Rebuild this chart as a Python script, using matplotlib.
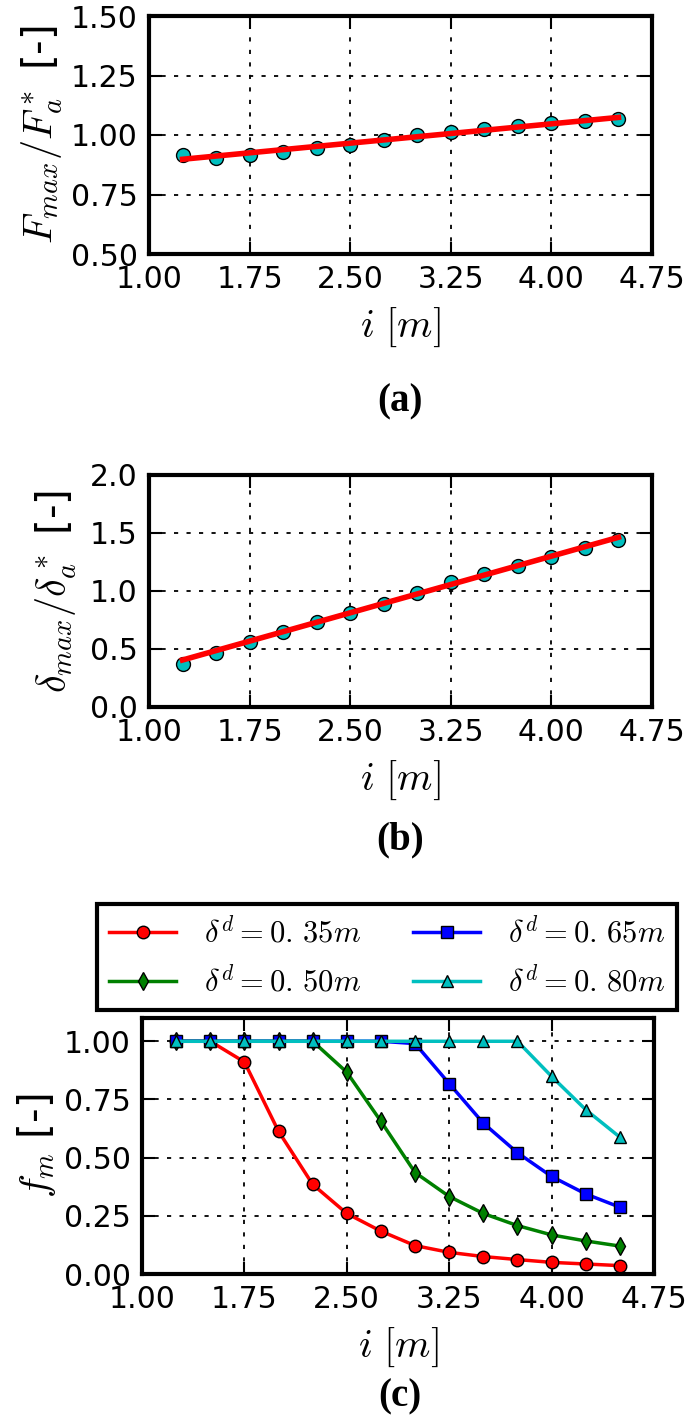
import numpy as np
import matplotlib
matplotlib.use("Agg")
import matplotlib.pyplot as plt

# spacing of piles i [m]
spacing = [1.25, 1.50, 1.75, 2.00, 2.25, 2.50, 2.75, 3.00, 3.25, 3.50, 3.75, 4.00, 4.25, 4.50]

# (a) force ratio and linear fit end points
force_ratio = [0.916, 0.905, 0.916, 0.929, 0.945, 0.959, 0.977, 0.998, 1.014, 1.027, 1.037, 1.050, 1.060, 1.068]
force_fit_x = [1.25, 4.50]
force_fit_y = [0.898, 1.074]

# (b) displacement ratio and linear fit end points
disp_ratio = [0.373, 0.465, 0.560, 0.646, 0.729, 0.809, 0.889, 0.987, 1.076, 1.145, 1.217, 1.297, 1.369, 1.440]
disp_fit_x = [1.25, 4.50]
disp_fit_y = [0.405, 1.463]

# (c) f_m for four design displacements
fm_035 = [1.0, 1.0, 0.911, 0.613, 0.385, 0.260, 0.184, 0.122, 0.093, 0.075, 0.062, 0.050, 0.043, 0.036]
fm_050 = [1.0, 1.0, 1.0, 1.0, 1.0, 0.867, 0.656, 0.436, 0.333, 0.260, 0.208, 0.168, 0.142, 0.120]
fm_065 = [1.0, 1.0, 1.0, 1.0, 1.0, 1.0, 1.0, 0.990, 0.818, 0.648, 0.521, 0.419, 0.344, 0.287]
fm_080 = [1.0, 1.0, 1.0, 1.0, 1.0, 1.0, 1.0, 1.0, 1.0, 1.0, 1.0, 0.849, 0.706, 0.588]
fm_labels = [r"$\delta^d=0.\,35m$", r"$\delta^d=0.\,50m$", r"$\delta^d=0.\,65m$", r"$\delta^d=0.\,80m$"]

xticks = [1.00, 1.75, 2.50, 3.25, 4.00, 4.75]

plt.rcParams["mathtext.fontset"] = "cm"
plt.rcParams["font.family"] = "DejaVu Sans"
plt.rcParams["lines.scale_dashes"] = False

fig = plt.figure(figsize=(6.85, 14.24), dpi=100)

def style_axes(ax, yticks, yfmt):
    ax.set_xlim(1.0, 4.75)
    ax.set_xticks(xticks)
    ax.set_xticklabels(["%.2f" % t for t in xticks])
    ax.set_yticks(yticks)
    ax.set_yticklabels([yfmt % t for t in yticks])
    ax.tick_params(direction="in", length=9, width=1.5, labelsize=21.5, pad=8,
                   top=True, right=True)
    ax.grid(True, color="k", linestyle=(0, (3, 6)), linewidth=1.3)
    for sp in ax.spines.values():
        sp.set_linewidth(3)
    ax.set_xlabel(r"$i\ [m]$", fontsize=29, labelpad=8)

# panel (a)
ax1 = fig.add_axes([149 / 685, 1 - 254 / 1424, 503 / 685, 238 / 1424])
ax1.plot(force_fit_x, force_fit_y, color="r", linewidth=4, zorder=3)
ax1.plot(spacing, force_ratio, "o", color="c", markeredgecolor="k", markersize=10, zorder=2)
ax1.set_ylim(0.5, 1.5)
style_axes(ax1, [0.5, 0.75, 1.0, 1.25, 1.5], "%.2f")
ax1.set_ylabel(r"$F_{max}/F_a^*$ [-]", fontsize=29, labelpad=4)

# panel (b)
ax2 = fig.add_axes([149 / 685, 1 - 707 / 1424, 503 / 685, 232 / 1424])
ax2.plot(disp_fit_x, disp_fit_y, color="r", linewidth=4, zorder=3)
ax2.plot(spacing, disp_ratio, "o", color="c", markeredgecolor="k", markersize=10, zorder=2)
ax2.set_ylim(0.0, 2.0)
style_axes(ax2, [0.0, 0.5, 1.0, 1.5, 2.0], "%.1f")
ax2.set_ylabel(r"$\delta_{max}/\delta_a^*$ [-]", fontsize=29, labelpad=8)

# panel (c)
ax3 = fig.add_axes([142 / 685, 1 - 1274 / 1424, 512 / 685, 256 / 1424])
series = [(fm_035, "r", "o"), (fm_050, "g", "d"), (fm_065, "b", "s"), (fm_080, "c", "^")]
for (vals, col, mk), lab in zip(series, fm_labels):
    ax3.plot(spacing, vals, color=col, marker=mk, markeredgecolor="k",
             markersize=9, linewidth=2.5, label=lab)
ax3.set_ylim(0.0, 1.1)
style_axes(ax3, [0.0, 0.25, 0.5, 0.75, 1.0], "%.2f")
ax3.set_ylabel(r"$f_m$ [-]", fontsize=29, labelpad=4)
leg = ax3.legend(loc="center", ncol=2, mode="expand", fontsize=22,
                 bbox_to_anchor=(97 / 685, 1 - 1009 / 1424, 580 / 685, 104 / 1424),
                 bbox_transform=fig.transFigure, fancybox=False, framealpha=1,
                 edgecolor="k", handlelength=2.2, borderaxespad=0,
                 labelspacing=0.55, columnspacing=1.0, handletextpad=0.9)
leg.get_frame().set_linewidth(3)

# panel captions
for y, lab in [(402, "(a)"), (840, "(b)"), (1397, "(c)")]:
    fig.text(400 / 685, 1 - y / 1424, lab, ha="center", va="center",
             fontsize=28, fontweight="bold", family="Liberation Serif")

fig.savefig("out.png", dpi=100)
